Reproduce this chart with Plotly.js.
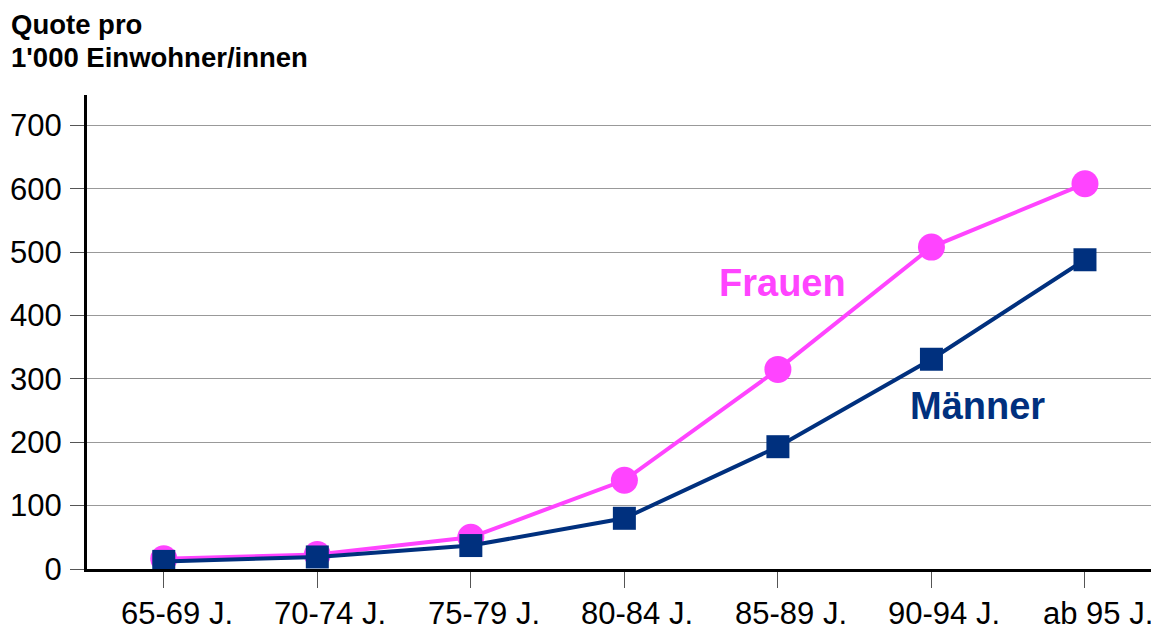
<!DOCTYPE html>
<html>
<head>
<meta charset="utf-8">
<script src="https://cdn.plot.ly/plotly-3.0.1.min.js"></script>
<style>html,body{margin:0;padding:0;background:#fff;}#chart{width:1151px;height:627px;}</style>
</head>
<body>
<div id="chart"></div>
<script>
const categories = ["65-69 J.", "70-74 J.", "75-79 J.", "80-84 J.", "85-89 J.", "90-94 J.", "ab 95 J."];
const frauen = [16, 23, 50, 140, 315, 508, 608];
const maenner = [12, 19, 37, 80, 193, 331, 488];
const yTicks = [0, 100, 200, 300, 400, 500, 600, 700];
const seriesNames = ["Frauen", "Männer"];
const titleLines = ["Quote pro", "1'000 Einwohner/innen"];

const pink = "#FF44FF";
const navy = "#00307E";
const FONT = "Liberation Sans, Arial, Helvetica, sans-serif";

const traces = [
  {x: categories, y: frauen, name: seriesNames[0], type: "scatter", mode: "lines+markers",
   line: {color: pink, width: 4}, marker: {symbol: "circle", size: 27, color: pink}},
  {x: categories, y: maenner, name: seriesNames[1], type: "scatter", mode: "lines+markers",
   line: {color: navy, width: 4}, marker: {symbol: "square", size: 23, color: navy}}
];

// category labels: in the original they sit slightly right of their tick marks
const categoryLabels = categories.map(c => ({
  text: c, xref: "x", yref: "paper", x: c, y: 0,
  xanchor: "center", yanchor: "middle", xshift: 13, yshift: -44,
  showarrow: false, font: {size: 31, family: FONT, color: "#000"}
}));

const layout = {
  width: 1151, height: 627,
  margin: {l: 87, r: 0, t: 95, b: 58},
  showlegend: false,
  paper_bgcolor: "#fff", plot_bgcolor: "#fff",
  font: {family: FONT, color: "#000"},
  xaxis: {
    type: "category", range: [-0.5, 6.43],
    showline: true, linecolor: "#000", linewidth: 3,
    ticks: "outside", ticklen: 16, tickcolor: "#555", tickwidth: 1,
    showticklabels: false,
    showgrid: false, zeroline: false, fixedrange: true
  },
  yaxis: {
    range: [0, 748],
    tickvals: yTicks, ticktext: yTicks.map(String),
    showline: true, linecolor: "#000", linewidth: 3,
    ticks: "outside", ticklen: 14, tickcolor: "#555", tickwidth: 1,
    tickfont: {size: 31, family: FONT, color: "#000"},
    ticklabelstandoff: 2,
    showgrid: true, gridcolor: "#999", gridwidth: 1,
    zeroline: false, fixedrange: true
  },
  annotations: [
    {text: "<b>" + titleLines[0] + "</b>", xref: "paper", yref: "paper", x: -0.0733, y: 1.1477,
     xanchor: "left", yanchor: "middle", showarrow: false, font: {size: 27.5, family: FONT, color: "#000"}},
    {text: "<b>" + titleLines[1] + "</b>", xref: "paper", yref: "paper", x: -0.0733, y: 1.080,
     xanchor: "left", yanchor: "middle", showarrow: false, font: {size: 27.5, family: FONT, color: "#000"}},
    {text: "<b>" + seriesNames[0] + "</b>", xref: "x", yref: "y", x: 4.03, y: 452,
     xanchor: "center", yanchor: "middle", showarrow: false, font: {size: 38, family: FONT, color: pink}},
    {text: "<b>" + seriesNames[1] + "</b>", xref: "x", yref: "y", x: 5.3, y: 258,
     xanchor: "center", yanchor: "middle", showarrow: false, font: {size: 38, family: FONT, color: navy}}
  ].concat(categoryLabels)
};

Plotly.newPlot("chart", traces, layout, {displayModeBar: false, staticPlot: true});
</script>
</body>
</html>
